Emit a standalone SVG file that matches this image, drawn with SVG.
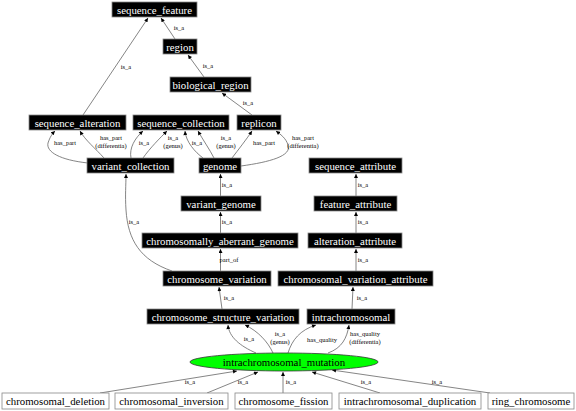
<svg xmlns="http://www.w3.org/2000/svg" width="576" height="411" viewBox="0 0 576 411">
<defs>
<marker id="a" markerUnits="userSpaceOnUse" viewBox="0 0 10 10" refX="10" refY="5" markerWidth="5" markerHeight="4" orient="auto"><path d="M0,0 L10,5 L0,10 z" fill="#000"/></marker>
<style>
.n rect{fill:#000;stroke:#888;stroke-width:0.8}
.n text{fill:#fff;font-family:"Liberation Serif",serif;font-size:10.8px;text-anchor:middle}
.w rect{fill:#fff;stroke:#888;stroke-width:0.8}
.w text{fill:#000;font-family:"Liberation Serif",serif;font-size:10.8px;text-anchor:middle}
.e path{fill:none;stroke:#666;stroke-width:0.8;marker-end:url(#a)}
.e text{fill:#000;font-family:"Liberation Serif",serif;font-size:6.5px;text-anchor:middle}
</style>
</defs>
<rect width="576" height="411" fill="#fff"/>
<g id="edges" class="e">
<path d="M83,115 L148,18"/><text x="126" y="69">is_a</text>
<path d="M175,39 L161,18"/><text x="179" y="30">is_a</text>
<path d="M204,77 L188,55"/><text x="208" y="68">is_a</text>
<path d="M252,115 L222,93"/><text x="248" y="105">is_a</text>
<path d="M88,163 C60,160 46,152 48,143 C50,137 52,134 55,131"/><text x="65" y="145">has_part</text>
<path d="M104,158 C96,149 85,140 80,131"/><text x="111" y="140">has_part</text><text x="111" y="147.5">(differentia)</text>
<path d="M131,158 C129,148 135,138 143,131"/><text x="144" y="145">is_a</text>
<path d="M143,158 C150,148 160,138 167,131"/><text x="173" y="140">is_a</text><text x="173" y="147.5">(genus)</text>
<path d="M203,158 C195,152 186,142 185,131"/><text x="197" y="145">is_a</text>
<path d="M214,158 C210,150 203,140 198,131"/><text x="226" y="140">is_a</text><text x="226" y="147.5">(genus)</text>
<path d="M232,158 C238,150 246,140 252,131"/><text x="264" y="145">has_part</text>
<path d="M241,166 C270,162 292,156 288,145 C286,138 280,134 276,131"/><text x="303" y="140">has_part</text><text x="303" y="147.5">(differentia)</text>
<path d="M220.5,196 L220.5,174"/><text x="227" y="187">is_a</text>
<path d="M220.5,233 L220.5,212"/><text x="227" y="224">is_a</text>
<path d="M220.5,271 L220.5,249"/><text x="229" y="262">part_of</text>
<path d="M172,271 C140,260 128,240 126,210 C125,195 126,185 126,174"/><text x="134" y="224">is_a</text>
<path d="M356,196 L356,174"/><text x="363" y="187">is_a</text>
<path d="M356,233 L356,212"/><text x="363" y="224">is_a</text>
<path d="M356,271 L356,249"/><text x="363" y="262">is_a</text>
<path d="M222,309 L219,287"/><text x="229" y="300">is_a</text>
<path d="M352,309 L353,287"/><text x="362" y="300">is_a</text>
<path d="M256,353 C240,346 229,337 228,325"/><text x="249" y="341">is_a</text>
<path d="M273,353 C268,342 258,331 245,325"/><text x="280" y="336">is_a</text><text x="280" y="343.5">(genus)</text>
<path d="M288,353 C292,340 300,330 316,325"/><text x="322" y="342">has_quality</text>
<path d="M328,353 C342,348 347,338 349,325"/><text x="365" y="336">has_quality</text><text x="365" y="343.5">(differentia)</text>
<path d="M100,393 L237,371"/><text x="190" y="384">is_a</text>
<path d="M207,393 L258,372"/><text x="243" y="384">is_a</text>
<path d="M283,393 L283,372"/><text x="291" y="384">is_a</text>
<path d="M380,393 L312,372"/><text x="366" y="384">is_a</text>
<path d="M490,393 L332,370"/><text x="437" y="384">is_a</text>
</g>
<g id="sequence_feature" class="n"><rect x="112" y="2" width="85" height="15"/><text x="154.5" y="13.5">sequence_feature</text></g>
<g id="region" class="n"><rect x="163" y="39" width="34" height="15"/><text x="180" y="50.5">region</text></g>
<g id="biological_region" class="n"><rect x="170" y="77" width="81" height="15"/><text x="210.5" y="88.5">biological_region</text></g>
<g id="sequence_alteration" class="n"><rect x="29" y="115" width="97" height="15"/><text x="77.5" y="126.5">sequence_alteration</text></g>
<g id="sequence_collection" class="n"><rect x="133" y="115" width="96" height="15"/><text x="181" y="126.5">sequence_collection</text></g>
<g id="replicon" class="n"><rect x="237" y="115" width="44" height="15"/><text x="259" y="126.5">replicon</text></g>
<g id="variant_collection" class="n"><rect x="87" y="158" width="87" height="15"/><text x="130.5" y="169.5">variant_collection</text></g>
<g id="genome" class="n"><rect x="199" y="158" width="42" height="15"/><text x="220" y="169.5">genome</text></g>
<g id="sequence_attribute" class="n"><rect x="309" y="158" width="93" height="15"/><text x="355.5" y="169.5">sequence_attribute</text></g>
<g id="variant_genome" class="n"><rect x="181" y="196" width="80" height="15"/><text x="221" y="207.5">variant_genome</text></g>
<g id="feature_attribute" class="n"><rect x="314" y="196" width="83" height="15"/><text x="355.5" y="207.5">feature_attribute</text></g>
<g id="chromosomally_aberrant_genome" class="n"><rect x="142" y="233" width="156" height="15"/><text x="220" y="244.5">chromosomally_aberrant_genome</text></g>
<g id="alteration_attribute" class="n"><rect x="308" y="233" width="94" height="15"/><text x="355" y="244.5">alteration_attribute</text></g>
<g id="chromosome_variation" class="n"><rect x="163" y="271" width="108" height="15"/><text x="217" y="282.5">chromosome_variation</text></g>
<g id="chromosomal_variation_attribute" class="n"><rect x="278" y="271" width="155" height="15"/><text x="355.5" y="282.5">chromosomal_variation_attribute</text></g>
<g id="chromosome_structure_variation" class="n"><rect x="147" y="309" width="152" height="15"/><text x="223" y="320.5">chromosome_structure_variation</text></g>
<g id="intrachromosomal" class="n"><rect x="307" y="309" width="88" height="15"/><text x="351" y="320.5">intrachromosomal</text></g>
<g id="intrachromosomal_mutation"><ellipse cx="284" cy="362" rx="94" ry="9" fill="#00ff00" stroke="#333" stroke-width="0.8"/><text x="284" y="365.5" font-family="Liberation Serif, serif" font-size="10.8" text-anchor="middle" fill="#000">intrachromosomal_mutation</text></g>
<g id="chromosomal_deletion" class="w"><rect x="2" y="393" width="107" height="16"/><text x="55.5" y="405">chromosomal_deletion</text></g>
<g id="chromosomal_inversion" class="w"><rect x="115" y="393" width="113" height="16"/><text x="171.5" y="405">chromosomal_inversion</text></g>
<g id="chromosome_fission" class="w"><rect x="235" y="393" width="97" height="16"/><text x="283.5" y="405">chromosome_fission</text></g>
<g id="intrachromosomal_duplication" class="w"><rect x="339" y="393" width="142" height="16"/><text x="410" y="405">intrachromosomal_duplication</text></g>
<g id="ring_chromosome" class="w"><rect x="488" y="393" width="86" height="16"/><text x="531" y="405">ring_chromosome</text></g>
</svg>
